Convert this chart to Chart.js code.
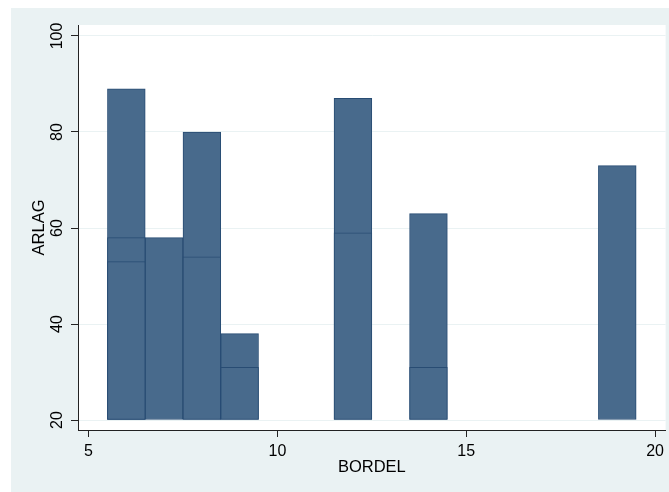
<!DOCTYPE html>
<html>
<head>
<meta charset="utf-8">
<script src="https://cdn.jsdelivr.net/npm/chart.js@4"></script>
<style>
  body { margin: 0; background: #fff; }
  canvas { display: block; }
</style>
</head>
<body>
<canvas id="chart" width="669" height="492"></canvas>
<script>
// one bar per observation, tallest first so the shorter outlines show on top
const bordel = [6, 6, 6, 7, 8, 8, 9, 9, 12, 12, 14, 14, 19];
const arlag = [89, 58, 53, 58, 80, 54, 38, 31, 87, 59, 63, 31, 73];
const barBase = 20;
const xTicks = [5, 10, 15, 20];
const yTicks = [20, 40, 60, 80, 100];

const regionColor = '#eaf2f3';

// Stata style graph region + white plot region
const backgroundPlugin = {
    id: 'background',
    beforeDraw(chart) {
        const ctx = chart.ctx;
        const area = chart.chartArea;
        ctx.save();
        ctx.fillStyle = '#ffffff';
        ctx.fillRect(0, 0, chart.width, chart.height);
        ctx.fillStyle = regionColor;
        ctx.fillRect(11, 8, chart.width - 11, chart.height - 8);
        ctx.fillStyle = '#ffffff';
        ctx.fillRect(area.left, area.top, area.right - area.left, area.bottom - area.top);
        ctx.restore();
    }
};

const points = bordel.map((x, i) => ({ x: x, y: arlag[i] }));

const ctx = document.getElementById('chart').getContext('2d');
new Chart(ctx, {
    type: 'bar',
    data: {
        datasets: [{
            data: points,
            base: barBase,
            backgroundColor: '#486a8c',
            borderColor: '#284c73',
            borderWidth: 1,
            borderSkipped: false,
            barPercentage: 1,
            categoryPercentage: 1
        }]
    },
    options: {
        responsive: false,
        devicePixelRatio: 1,
        animation: false,
        layout: { padding: { left: 0, top: 25, right: 3, bottom: 0 } },
        plugins: {
            legend: { display: false },
            tooltip: { enabled: false }
        },
        scales: {
            x: {
                type: 'linear',
                offset: false,
                min: 4.72,
                max: 20.28,
                afterBuildTicks: scale => { scale.ticks = xTicks.map(v => ({ value: v })); },
                afterFit: scale => { scale.height = 62; },
                grid: {
                    offset: false,
                    drawOnChartArea: false,
                    drawTicks: true,
                    tickLength: 7,
                    tickColor: '#222'
                },
                border: { display: true, color: '#222', width: 1 },
                ticks: {
                    color: '#000',
                    padding: 5,
                    maxRotation: 0,
                    font: { family: 'Liberation Sans', size: 16 }
                },
                title: {
                    display: true,
                    text: 'BORDEL',
                    color: '#000',
                    font: { family: 'Liberation Sans', size: 16.5 },
                    padding: { top: 0, bottom: 15 }
                }
            },
            y: {
                type: 'linear',
                min: 17.92,
                max: 102.29,
                afterBuildTicks: scale => { scale.ticks = yTicks.map(v => ({ value: v })); },
                afterFit: scale => { scale.width = 78; },
                grid: {
                    color: regionColor,
                    lineWidth: 1,
                    drawTicks: true,
                    tickLength: 7,
                    tickColor: '#222'
                },
                border: { display: true, color: '#222', width: 1 },
                ticks: {
                    color: '#000',
                    padding: 0,
                    minRotation: 90,
                    maxRotation: 90,
                    crossAlign: 'center',
                    font: { family: 'Liberation Sans', size: 16 }
                },
                title: {
                    display: true,
                    text: 'ARLAG',
                    color: '#000',
                    font: { family: 'Liberation Sans', size: 16.5 },
                    padding: { top: 30, bottom: 0 }
                }
            }
        }
    },
    plugins: [backgroundPlugin]
});
</script>
</body>
</html>
